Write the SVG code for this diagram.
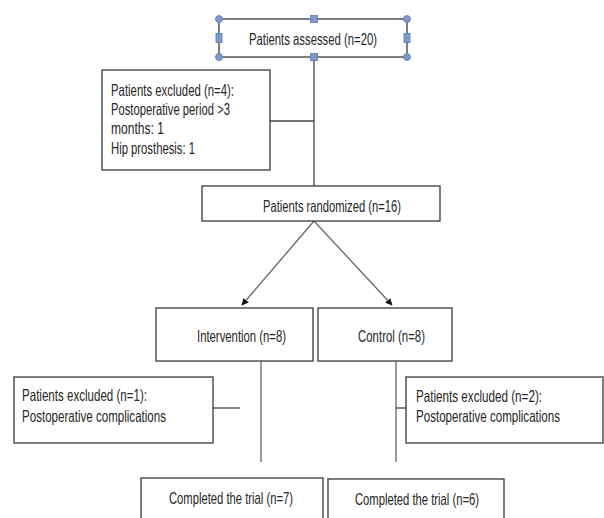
<svg xmlns="http://www.w3.org/2000/svg" width="604" height="518" viewBox="0 0 604 518">
<style>
.box{fill:#fff;stroke:#3a3a3a;stroke-width:1.3}
.t{font-family:"Liberation Sans",Arial,sans-serif;font-size:16.5px;fill:#262626}
.ln{stroke:#444;stroke-width:1.3;fill:none}
.lg{stroke:#666;stroke-width:1.3;fill:none}
.h{fill:#7f9ac8;stroke:#5c7aae;stroke-width:0.8}
</style>
<defs>
<marker id="ah" viewBox="0 0 10 10" refX="9" refY="5" markerWidth="7" markerHeight="7" orient="auto" markerUnits="userSpaceOnUse">
<path d="M0,0 L10,5 L0,10 z" fill="#111"/>
</marker>
</defs>
<rect width="604" height="518" fill="#fff"/>
<g id="connectors">
<line class="ln" x1="314" y1="57" x2="314" y2="186"/>
<line class="ln" x1="270" y1="121" x2="314" y2="121"/>
<line class="lg" x1="314" y1="221" x2="242" y2="305" marker-end="url(#ah)"/>
<line class="lg" x1="314" y1="221" x2="392" y2="305" marker-end="url(#ah)"/>
<line class="lg" x1="261" y1="361" x2="261" y2="462"/>
<line class="lg" x1="396" y1="361" x2="396" y2="462"/>
<line class="ln" x1="213" y1="408" x2="240" y2="408"/>
<line class="ln" x1="396" y1="408" x2="415" y2="408"/>
</g>
<g id="assessed">
<rect class="box" x="219" y="19" width="188" height="38"/>
<text class="t" x="249" y="45" textLength="128" lengthAdjust="spacingAndGlyphs">Patients assessed (n=20)</text>
<circle class="h" cx="219" cy="19" r="3.5"/>
<circle class="h" cx="407" cy="19" r="3.5"/>
<circle class="h" cx="219" cy="57" r="3.5"/>
<circle class="h" cx="407" cy="57" r="3.5"/>
<rect class="h" x="310.5" y="15.5" width="7" height="7"/>
<rect class="h" x="310.5" y="53.5" width="7" height="7"/>
<rect class="h" x="216" y="33.5" width="6" height="9"/>
<rect class="h" x="404" y="33.5" width="6" height="9"/>
</g>
<g id="excluded4">
<rect class="box" x="102" y="70" width="168" height="100"/>
<text class="t" x="111" y="96" textLength="123" lengthAdjust="spacingAndGlyphs">Patients excluded (n=4):</text>
<text class="t" x="111" y="115" textLength="119" lengthAdjust="spacingAndGlyphs">Postoperative period &gt;3</text>
<text class="t" x="111" y="134" textLength="53" lengthAdjust="spacingAndGlyphs">months: 1</text>
<text class="t" x="111" y="154" textLength="84" lengthAdjust="spacingAndGlyphs">Hip prosthesis: 1</text>
</g>
<g id="randomized">
<rect class="box" x="202" y="186" width="238" height="35"/>
<text class="t" x="263" y="212" textLength="138" lengthAdjust="spacingAndGlyphs">Patients randomized (n=16)</text>
</g>
<g id="intervention">
<rect class="box" x="156" y="308" width="157" height="53"/>
<text class="t" x="197" y="342" textLength="89" lengthAdjust="spacingAndGlyphs">Intervention (n=8)</text>
</g>
<g id="control">
<rect class="box" x="318" y="308" width="134" height="53"/>
<text class="t" x="358" y="342" textLength="67" lengthAdjust="spacingAndGlyphs">Control (n=8)</text>
</g>
<g id="excluded1">
<rect class="box" x="14" y="377" width="199" height="66"/>
<text class="t" x="22" y="401" textLength="125" lengthAdjust="spacingAndGlyphs">Patients excluded (n=1):</text>
<text class="t" x="22" y="422" textLength="144" lengthAdjust="spacingAndGlyphs">Postoperative complications</text>
</g>
<g id="excluded2">
<rect class="box" x="406" y="377" width="197" height="66"/>
<text class="t" x="416" y="402" textLength="126" lengthAdjust="spacingAndGlyphs">Patients excluded (n=2):</text>
<text class="t" x="416" y="422" textLength="144" lengthAdjust="spacingAndGlyphs">Postoperative complications</text>
</g>
<g id="completed7">
<rect class="box" x="141" y="478" width="182" height="45"/>
<text class="t" x="169" y="504" textLength="124" lengthAdjust="spacingAndGlyphs">Completed the trial (n=7)</text>
</g>
<g id="completed6">
<rect class="box" x="328" y="479" width="176" height="45"/>
<text class="t" x="355" y="505" textLength="124" lengthAdjust="spacingAndGlyphs">Completed the trial (n=6)</text>
</g>
</svg>
